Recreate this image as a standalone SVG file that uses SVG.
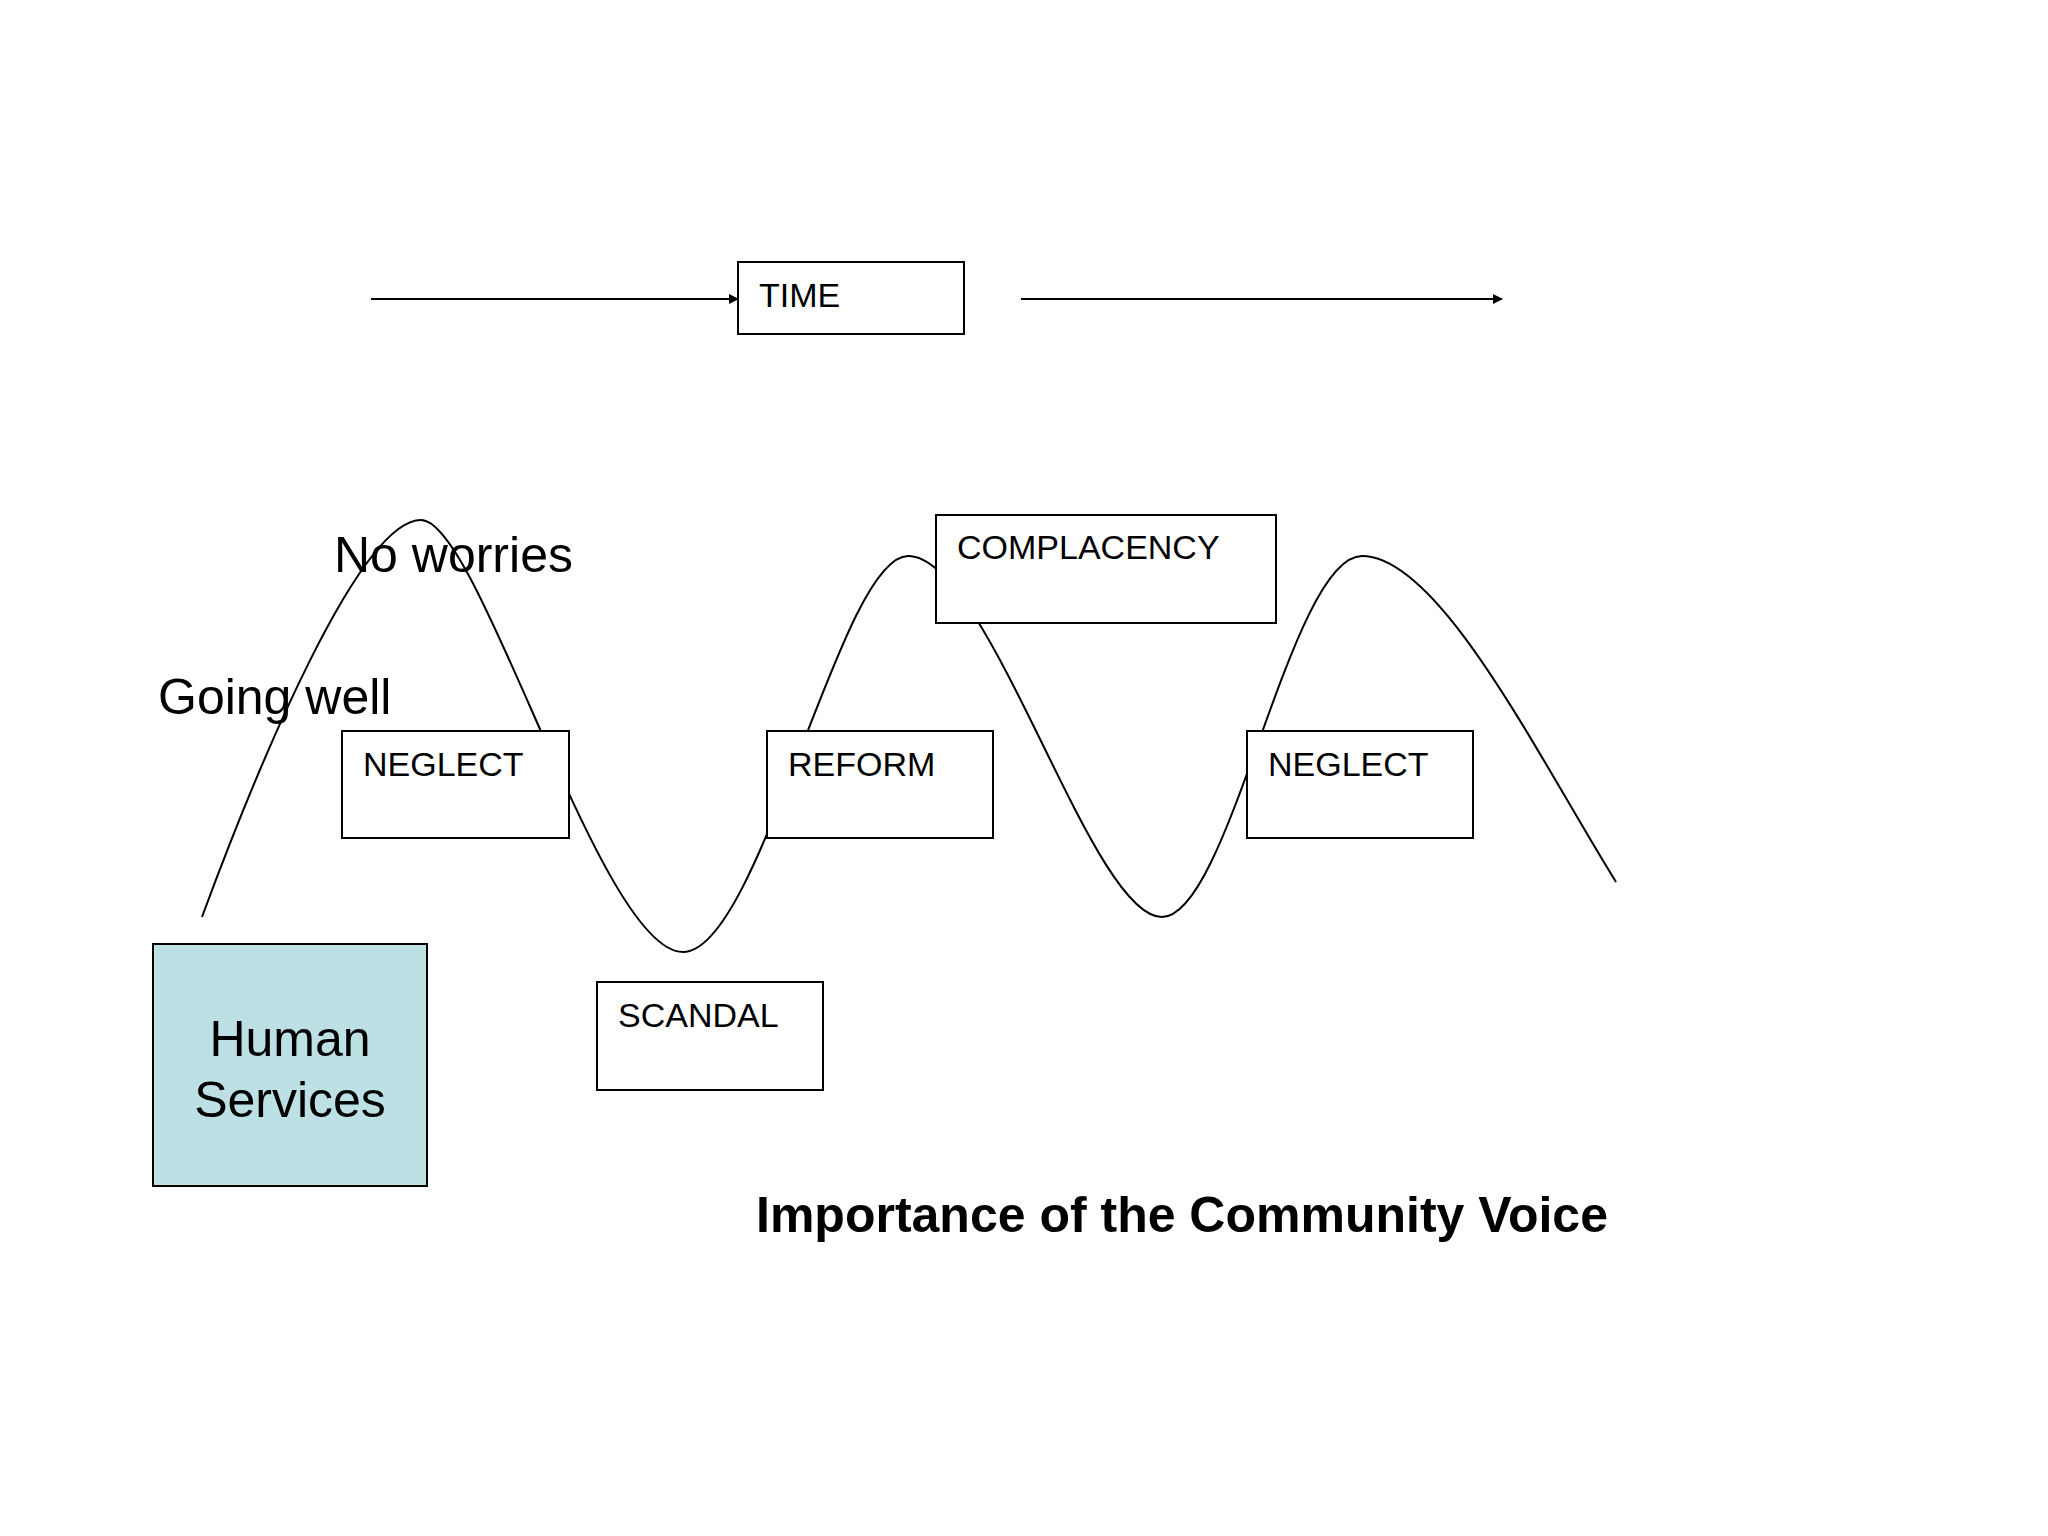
<svg xmlns="http://www.w3.org/2000/svg" width="2048" height="1536" viewBox="0 0 2048 1536">
<style>
.box{fill:#fff;stroke:#000;stroke-width:2}
.lbl{font-family:"Liberation Sans",Arial,sans-serif;font-size:34px;fill:#000}
.big{font-family:"Liberation Sans",Arial,sans-serif;font-size:50px;fill:#000}
</style>
<defs><marker id="ah" markerWidth="10" markerHeight="10" refX="9" refY="5" orient="auto" markerUnits="userSpaceOnUse"><path d="M0,0 L10,5 L0,10 z" fill="#000"/></marker></defs>
<rect width="2048" height="1536" fill="#fff"/>
<g id="connectors" fill="none" stroke="#000" stroke-width="2">
<line x1="371" y1="299" x2="738" y2="299" marker-end="url(#ah)"/>
<line x1="1021" y1="299" x2="1502" y2="299" marker-end="url(#ah)"/>
<path d="M202,917 C260,760 360,520 421,520 C480,520 600,952 683,952 C760,952 840,556 908,556 C990,556 1090,917 1162,917 C1230,917 1290,556 1362,556 C1440,556 1540,760 1616,882"/>
</g>
<text class="big" x="334" y="572">No worries</text>
<text class="big" x="158" y="714">Going well</text>
<g id="time"><rect class="box" x="738" y="262" width="226" height="72"/><text class="lbl" x="759" y="307">TIME</text></g>
<g id="complacency"><rect class="box" x="936" y="515" width="340" height="108"/><text class="lbl" x="957" y="559">COMPLACENCY</text></g>
<g id="neglect1"><rect class="box" x="342" y="731" width="227" height="107"/><text class="lbl" x="363" y="776">NEGLECT</text></g>
<g id="reform"><rect class="box" x="767" y="731" width="226" height="107"/><text class="lbl" x="788" y="776">REFORM</text></g>
<g id="neglect2"><rect class="box" x="1247" y="731" width="226" height="107"/><text class="lbl" x="1268" y="776">NEGLECT</text></g>
<g id="scandal"><rect class="box" x="597" y="982" width="226" height="108"/><text class="lbl" x="618" y="1027">SCANDAL</text></g>
<g id="human"><rect x="153" y="944" width="274" height="242" fill="#bde0e4" stroke="#000" stroke-width="2"/><text class="big" x="290" y="1056" text-anchor="middle">Human</text><text class="big" x="290" y="1117" text-anchor="middle">Services</text></g>
<text class="big" x="756" y="1232" font-weight="bold">Importance of the Community Voice</text>
</svg>
